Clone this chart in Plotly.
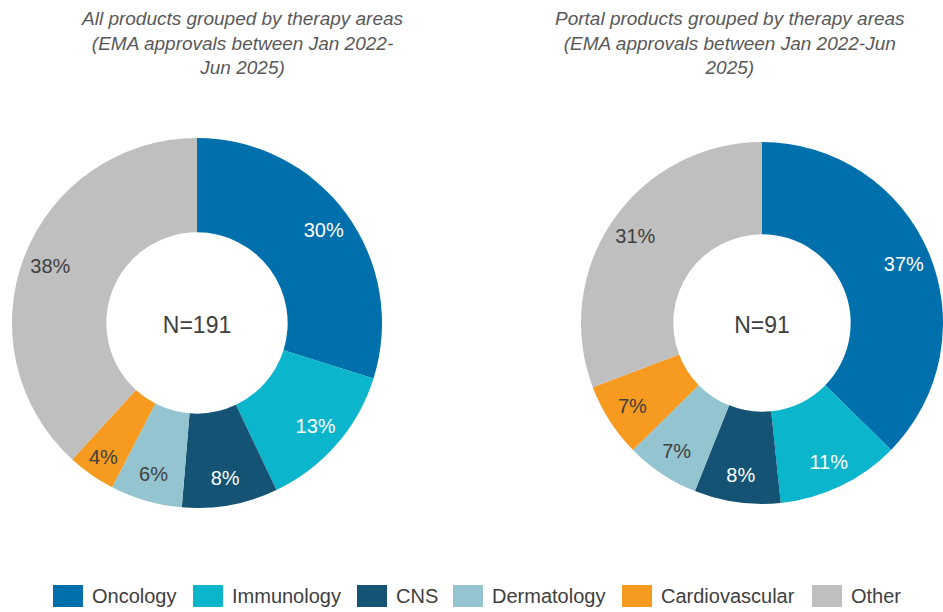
import plotly.graph_objects as go

# therapy areas and colours
areas = ['Oncology', 'Immunology', 'CNS', 'Dermatology', 'Cardiovascular', 'Other']
colors = ['#0070AD', '#0BB5CC', '#145373', '#94C4D0', '#F69A20', '#BFBFBF']
label_colors = ['white', 'white', 'white', '#404040', '#404040', '#404040']

# product counts per therapy area
all_counts = [57, 25, 16, 12, 8, 73]      # N=191
portal_counts = [34, 10, 7, 6, 6, 28]     # N=91

titles = [
    'All products grouped by therapy areas<br>(EMA approvals between Jan 2022-<br>Jun 2025)',
    'Portal products grouped by therapy areas<br>(EMA approvals between Jan 2022-Jun<br>2025)',
]

FONT = 'Arial, Liberation Sans, sans-serif'
W, H = 943, 612

fig = go.Figure()

# domains of the two donuts (pixels -> paper)
doms = [
    dict(x=[12 / W, 382 / W], y=[104 / H, 474 / H]),
    dict(x=[581 / W, 1.0], y=[104 / H, 474 / H]),
]

for i, counts in enumerate([all_counts, portal_counts]):
    # coloured ring
    fig.add_trace(go.Pie(
        labels=areas, values=counts, domain=doms[i],
        hole=0.49, sort=False, direction='clockwise', rotation=0,
        marker=dict(colors=colors, line=dict(width=0)),
        textinfo='none', hoverinfo='label+percent', showlegend=False,
        title=dict(text='N=%d' % sum(counts), position='middle center',
                   font=dict(size=23, color='#404040', family=FONT)),
    ))
    # transparent ring used only to place the percentage labels further out
    fig.add_trace(go.Pie(
        labels=areas, values=counts, domain=doms[i],
        hole=0.7, sort=False, direction='clockwise', rotation=0,
        marker=dict(colors=['rgba(0,0,0,0)'] * len(areas), line=dict(width=0)),
        texttemplate='%{percent:.0%}', textposition='inside',
        insidetextorientation='horizontal',
        insidetextfont=dict(size=20, color=label_colors, family=FONT),
        hoverinfo='skip', showlegend=False,
    ))

fig.update_layout(
    width=W, height=H,
    margin=dict(l=0, r=0, t=0, b=0),
    paper_bgcolor='white',
    font=dict(family=FONT, color='#404040'),
    showlegend=False,
)

for x, t in zip([243 / W, 730 / W], titles):
    fig.add_annotation(
        x=x, y=1 - 6 / H, xref='paper', yref='paper',
        xanchor='center', yanchor='top', showarrow=False,
        text='<i>' + t + '</i>', align='center',
        font=dict(size=19, color='#595959', family=FONT),
    )

# legend drawn as boxes + labels along the bottom
leg_x = [53, 193, 357, 453, 622, 812]
for lx, name, c in zip(leg_x, areas, colors):
    fig.add_shape(type='rect', xref='paper', yref='paper',
                  x0=lx / W, x1=(lx + 30) / W,
                  y0=1 - 607 / H, y1=1 - 585 / H,
                  fillcolor=c, line=dict(width=0))
    fig.add_annotation(x=(lx + 37) / W, y=1 - 596 / H, xref='paper', yref='paper',
                       xanchor='left', yanchor='middle', showarrow=False,
                       text=name, font=dict(size=20, color='#404040', family=FONT))

fig.write_html('out.html', config={'displayModeBar': False},
               post_script="document.body.style.margin='0';")
